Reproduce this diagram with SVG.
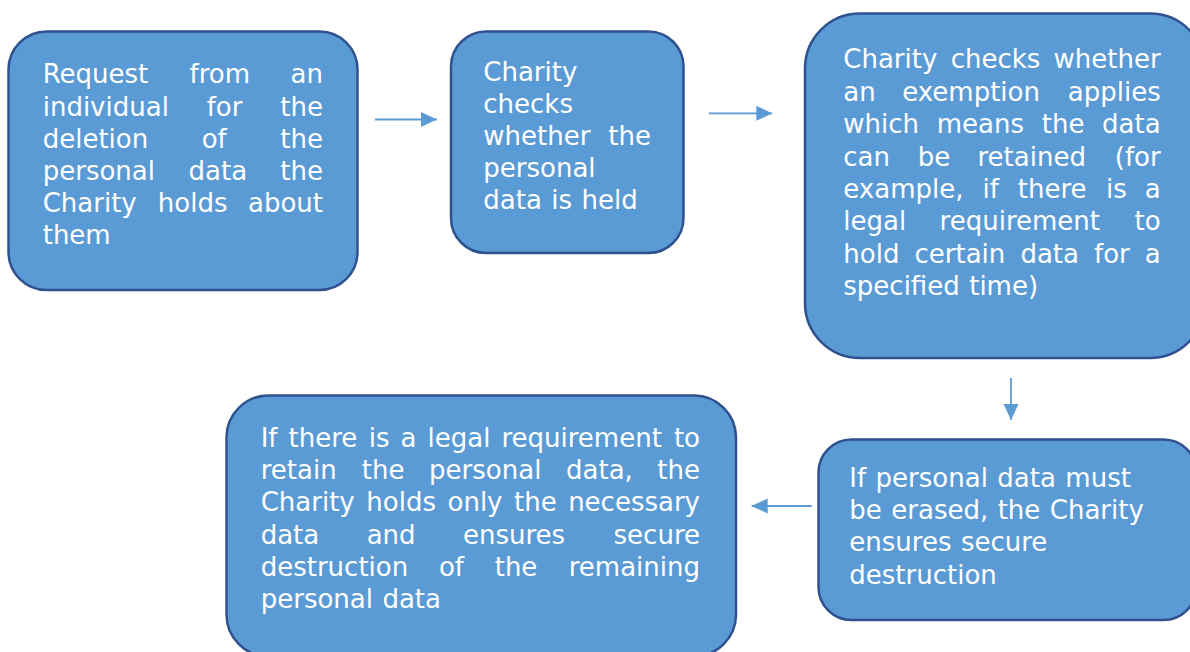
<svg xmlns="http://www.w3.org/2000/svg" width="1190" height="652" viewBox="0 0 1190 652">
<defs>
<style>
.box{fill:#5b9bd5;stroke:#2f528f;stroke-width:2.5}
.t{font-family:"DejaVu Sans","Verdana",sans-serif;font-size:26px;fill:#ffffff}
.w{word-spacing:1.2px}
.e{text-anchor:end}
.conn{stroke:#5b9bd5;stroke-width:1.8;fill:none}
</style>
<marker id="ah" markerWidth="16" markerHeight="16" refX="16" refY="8" orient="auto" markerUnits="userSpaceOnUse">
<path d="M0,0.5 L16,8 L0,15.5 Z" fill="#5b9bd5"/>
</marker>
</defs>
<rect width="1190" height="652" fill="#ffffff"/>

<g id="connectors">
<line class="conn" x1="375" y1="119.5" x2="437" y2="119.5" marker-end="url(#ah)"/>
<line class="conn" x1="709" y1="113.3" x2="772.3" y2="113.3" marker-end="url(#ah)"/>
<line class="conn" x1="1011" y1="378" x2="1011" y2="420" marker-end="url(#ah)"/>
<line class="conn" x1="811.7" y1="506" x2="751.7" y2="506" marker-end="url(#ah)"/>
</g>

<g id="node-request">
<rect class="box" x="8.5" y="31.5" width="349" height="258.5" rx="38"/>
<text class="t" y="83.3"><tspan x="42.7">Request</tspan><tspan x="189.5">from</tspan><tspan x="323" class="e">an</tspan></text>
<text class="t" y="115.5"><tspan x="42.7">individual</tspan><tspan x="206.7">for</tspan><tspan x="323" class="e">the</tspan></text>
<text class="t" y="147.6"><tspan x="42.7">deletion</tspan><tspan x="201.7">of</tspan><tspan x="323" class="e">the</tspan></text>
<text class="t" y="179.8"><tspan x="42.7">personal</tspan><tspan x="188.6">data</tspan><tspan x="323" class="e">the</tspan></text>
<text class="t" y="212"><tspan x="42.7">Charity</tspan><tspan x="157.8">holds</tspan><tspan x="323" class="e">about</tspan></text>
<text class="t" x="42.7" y="244.2">them</text>
</g>

<g id="node-check-held">
<rect class="box" x="451" y="31.5" width="232.5" height="221.5" rx="35"/>
<text class="t" x="483.3" y="81">Charity</text>
<text class="t" x="483.3" y="113">checks</text>
<text class="t" y="145"><tspan x="483.3">whether</tspan><tspan x="608.3">the</tspan></text>
<text class="t" x="483.3" y="177">personal</text>
<text class="t w" x="483.3" y="209">data is held</text>
</g>

<g id="node-exemption">
<rect class="box" x="805" y="13.5" width="400" height="344.5" rx="55"/>
<text class="t" y="68.3"><tspan x="843.3">Charity</tspan><tspan x="950.7">checks</tspan><tspan x="1160.7" class="e">whether</tspan></text>
<text class="t" y="100.7"><tspan x="843.3">an</tspan><tspan x="902.2">exemption</tspan><tspan x="1160.7" class="e">applies</tspan></text>
<text class="t" y="133.1"><tspan x="843.3">which</tspan><tspan x="936.8">means</tspan><tspan x="1041.8">the</tspan><tspan x="1160.7" class="e">data</tspan></text>
<text class="t" y="165.5"><tspan x="843.3">can</tspan><tspan x="917.8">be</tspan><tspan x="977.5">retained</tspan><tspan x="1160.7" class="e">(for</tspan></text>
<text class="t" y="197.9"><tspan x="843.3">example,</tspan><tspan x="982.5">if</tspan><tspan x="1017.8">there</tspan><tspan x="1106">is</tspan><tspan x="1160.7" class="e">a</tspan></text>
<text class="t" y="230.3"><tspan x="843.3">legal</tspan><tspan x="939.6">requirement</tspan><tspan x="1160.7" class="e">to</tspan></text>
<text class="t" y="262.7"><tspan x="843.3">hold</tspan><tspan x="914.5">certain</tspan><tspan x="1020.4">data</tspan><tspan x="1094">for</tspan><tspan x="1160.7" class="e">a</tspan></text>
<text class="t w" x="843.3" y="295.1">specified time)</text>
</g>

<g id="node-erase">
<rect class="box" x="818.5" y="439.5" width="378" height="180.5" rx="33"/>
<text class="t w" x="849.3" y="486.7">If personal data must</text>
<text class="t w" x="849.3" y="519">be erased, the Charity</text>
<text class="t w" x="849.3" y="551.3">ensures secure</text>
<text class="t" x="849.3" y="583.6">destruction</text>
</g>

<g id="node-retain">
<rect class="box" x="226.5" y="395.5" width="509.5" height="261" rx="42"/>
<text class="t" y="446.7"><tspan x="260.7">If</tspan><tspan x="288.5">there</tspan><tspan x="368.8">is</tspan><tspan x="400.6">a</tspan><tspan x="427.5">legal</tspan><tspan x="501.4">requirement</tspan><tspan x="700" class="e">to</tspan></text>
<text class="t" y="479"><tspan x="260.7">retain</tspan><tspan x="361.8">the</tspan><tspan x="429.1">personal</tspan><tspan x="566">data,</tspan><tspan x="700" class="e">the</tspan></text>
<text class="t" y="511.3"><tspan x="260.7">Charity</tspan><tspan x="366.3">holds</tspan><tspan x="447.5">only</tspan><tspan x="514">the</tspan><tspan x="700" class="e">necessary</tspan></text>
<text class="t" y="543.6"><tspan x="260.7">data</tspan><tspan x="366.7">and</tspan><tspan x="463">ensures</tspan><tspan x="700" class="e">secure</tspan></text>
<text class="t" y="575.9"><tspan x="260.7">destruction</tspan><tspan x="438.9">of</tspan><tspan x="494.7">the</tspan><tspan x="700" class="e">remaining</tspan></text>
<text class="t w" x="260.7" y="608.2">personal data</text>
</g>
</svg>
